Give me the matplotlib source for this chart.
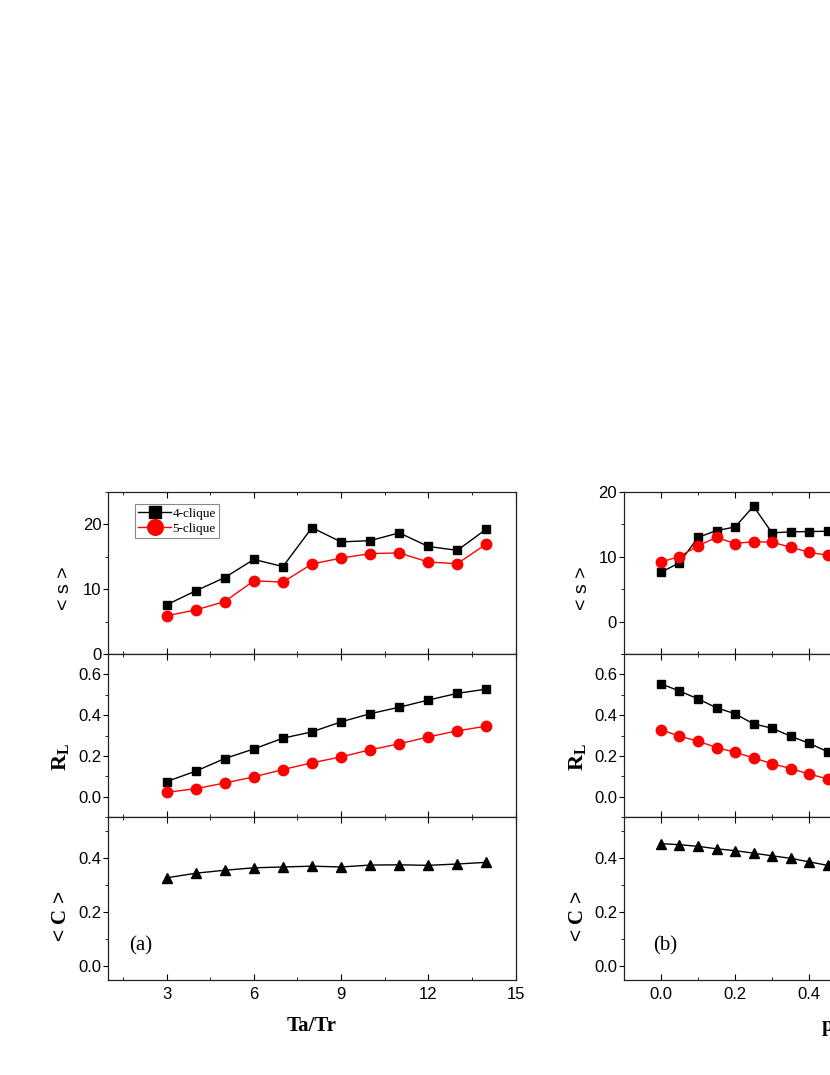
import numpy as np
import matplotlib
matplotlib.use("Agg")
import matplotlib.pyplot as plt
from matplotlib.ticker import MultipleLocator

plt.rcParams["font.family"] = ["Liberation Sans", "DejaVu Sans"]
plt.rcParams["mathtext.fontset"] = "custom"
plt.rcParams["mathtext.rm"] = "Liberation Serif"
plt.rcParams["mathtext.bf"] = "Liberation Serif:bold"

# panel (a): Ta/Tr
ratio = [3, 4, 5, 6, 7, 8, 9, 10, 11, 12, 13, 14]
s4_a = [7.6, 9.75, 11.8, 14.6, 13.5, 19.5, 17.3, 17.5, 18.7, 16.6, 16.0, 19.3]
s5_a = [5.9, 6.8, 8.1, 11.3, 11.1, 13.9, 14.8, 15.5, 15.6, 14.2, 13.95, 17.0]
rl4_a = [0.074, 0.125, 0.187, 0.234, 0.287, 0.318, 0.367, 0.407, 0.439, 0.474, 0.507, 0.528]
rl5_a = [0.021, 0.039, 0.067, 0.097, 0.133, 0.166, 0.195, 0.230, 0.259, 0.293, 0.323, 0.346]
c_a = [0.326, 0.343, 0.354, 0.363, 0.366, 0.369, 0.366, 0.373, 0.374, 0.372, 0.377, 0.383]

# panel (b): p (only the visible part)
p = [0.0, 0.05, 0.1, 0.15, 0.2, 0.25, 0.3, 0.35, 0.4, 0.45]
s4_b = [7.6, 9.1, 13.0, 14.05, 14.6, 17.8, 13.7, 13.85, 13.9, 13.95]
s5_b = [9.2, 10.05, 11.7, 13.0, 12.05, 12.35, 12.25, 11.5, 10.7, 10.25]
rl4_b = [0.554, 0.518, 0.480, 0.436, 0.407, 0.357, 0.336, 0.297, 0.262, 0.221]
rl5_b = [0.328, 0.297, 0.272, 0.241, 0.218, 0.190, 0.162, 0.138, 0.111, 0.087]
c_b = [0.452, 0.448, 0.442, 0.433, 0.426, 0.417, 0.407, 0.398, 0.385, 0.372]

fig = plt.figure(figsize=(8.3, 10.75), dpi=100)

bottoms = [0.3916, 0.24, 0.0884]
heights = [0.1507, 0.1516, 0.1516]
lefts = [0.1307, 0.7518]
width = 0.4904

serif_bold = dict(family="Liberation Serif", weight="bold")


def style(ax, xmaj, xmin, ymaj, ymin, show_x):
    ax.xaxis.set_major_locator(MultipleLocator(xmaj))
    ax.xaxis.set_minor_locator(MultipleLocator(xmin))
    ax.yaxis.set_major_locator(MultipleLocator(ymaj))
    ax.yaxis.set_minor_locator(MultipleLocator(ymin))
    ax.tick_params(axis="x", which="both", direction="in", top=True, bottom=True,
                   labelbottom=show_x, labelsize=12, pad=5)
    ax.tick_params(axis="x", which="major", length=4)
    ax.tick_params(axis="x", which="minor", length=2.5)
    ax.tick_params(axis="y", which="both", direction="out", left=True, right=False,
                   labelsize=12, pad=1.5)
    ax.tick_params(axis="y", which="major", length=3.5)
    ax.tick_params(axis="y", which="minor", length=2)
    for sp in ax.spines.values():
        sp.set_linewidth(0.9)
        sp.set_color("#222222")


for col in range(2):
    x0 = lefts[col]
    ax1 = fig.add_axes([x0, bottoms[0], width, heights[0]])
    ax2 = fig.add_axes([x0, bottoms[1], width, heights[1]])
    ax3 = fig.add_axes([x0, bottoms[2], width, heights[2]])

    if col == 0:
        xs, s4, s5, r4, r5, cc = ratio, s4_a, s5_a, rl4_a, rl5_a, c_a
        xlim, xmaj, xmin = (1, 15), 3, 1.5
        ylim1 = (0, 25)
        xlabel, tag = "Ta/Tr", "(a)"
    else:
        xs, s4, s5, r4, r5, cc = p, s4_b, s5_b, rl4_b, rl5_b, c_b
        xlim, xmaj, xmin = (-0.1, 1.0), 0.2, 0.1
        ylim1 = (-5, 20)
        xlabel, tag = "p", "(b)"

    ax1.plot(xs, s4, "-s", color="black", lw=1, ms=6, label="4-clique")
    ax1.plot(xs, s5, "-o", color="red", mec="red", lw=1, ms=7.5, label="5-clique")
    ax1.set_xlim(*xlim)
    ax1.set_ylim(*ylim1)
    style(ax1, xmaj, xmin, 10, 5, False)

    ax2.plot(xs, r4, "-s", color="black", lw=1, ms=6)
    ax2.plot(xs, r5, "-o", color="red", mec="red", lw=1, ms=7.5)
    ax2.set_xlim(*xlim)
    ax2.set_ylim(-0.1, 0.7)
    style(ax2, xmaj, xmin, 0.2, 0.1, False)

    ax3.plot(xs, cc, "-^", color="black", lw=1, ms=7)
    ax3.set_xlim(*xlim)
    ax3.set_ylim(-0.05, 0.55)
    style(ax3, xmaj, xmin, 0.2, 0.1, True)
    ax3.set_xlabel(xlabel, fontsize=15, labelpad=10, **serif_bold)

    off = -0.107 if col == 0 else -0.103
    ax1.text(off, 0.407, "< s >", transform=ax1.transAxes, rotation=90,
             ha="center", va="center", fontsize=14)
    ax2.text(off - 0.01, 0.37, r"$\mathbf{R}_{\mathbf{L}}$", transform=ax2.transAxes,
             rotation=90, ha="center", va="center", fontsize=16)
    ax3.text(off - 0.01, 0.39, r"< $\mathbf{C}$ >", transform=ax3.transAxes, rotation=90,
             ha="center", va="center", fontsize=15)

    ax3.text(0.08 if col == 0 else 0.1, 0.21, tag, transform=ax3.transAxes,
             ha="center", va="center", fontsize=15, family="Liberation Serif")

    if col == 0:
        leg = ax1.legend(loc="upper left", bbox_to_anchor=(0.065, 0.926), borderaxespad=0,
                         prop={"family": "Liberation Serif", "size": 9.5},
                         handlelength=2.5, handletextpad=0.1, borderpad=0.25,
                         labelspacing=0.25, fancybox=False, framealpha=1,
                         markerscale=1.5)
        leg.get_frame().set_edgecolor("#888888")
        leg.get_frame().set_linewidth(0.8)

fig.savefig("out.png", dpi=100)
